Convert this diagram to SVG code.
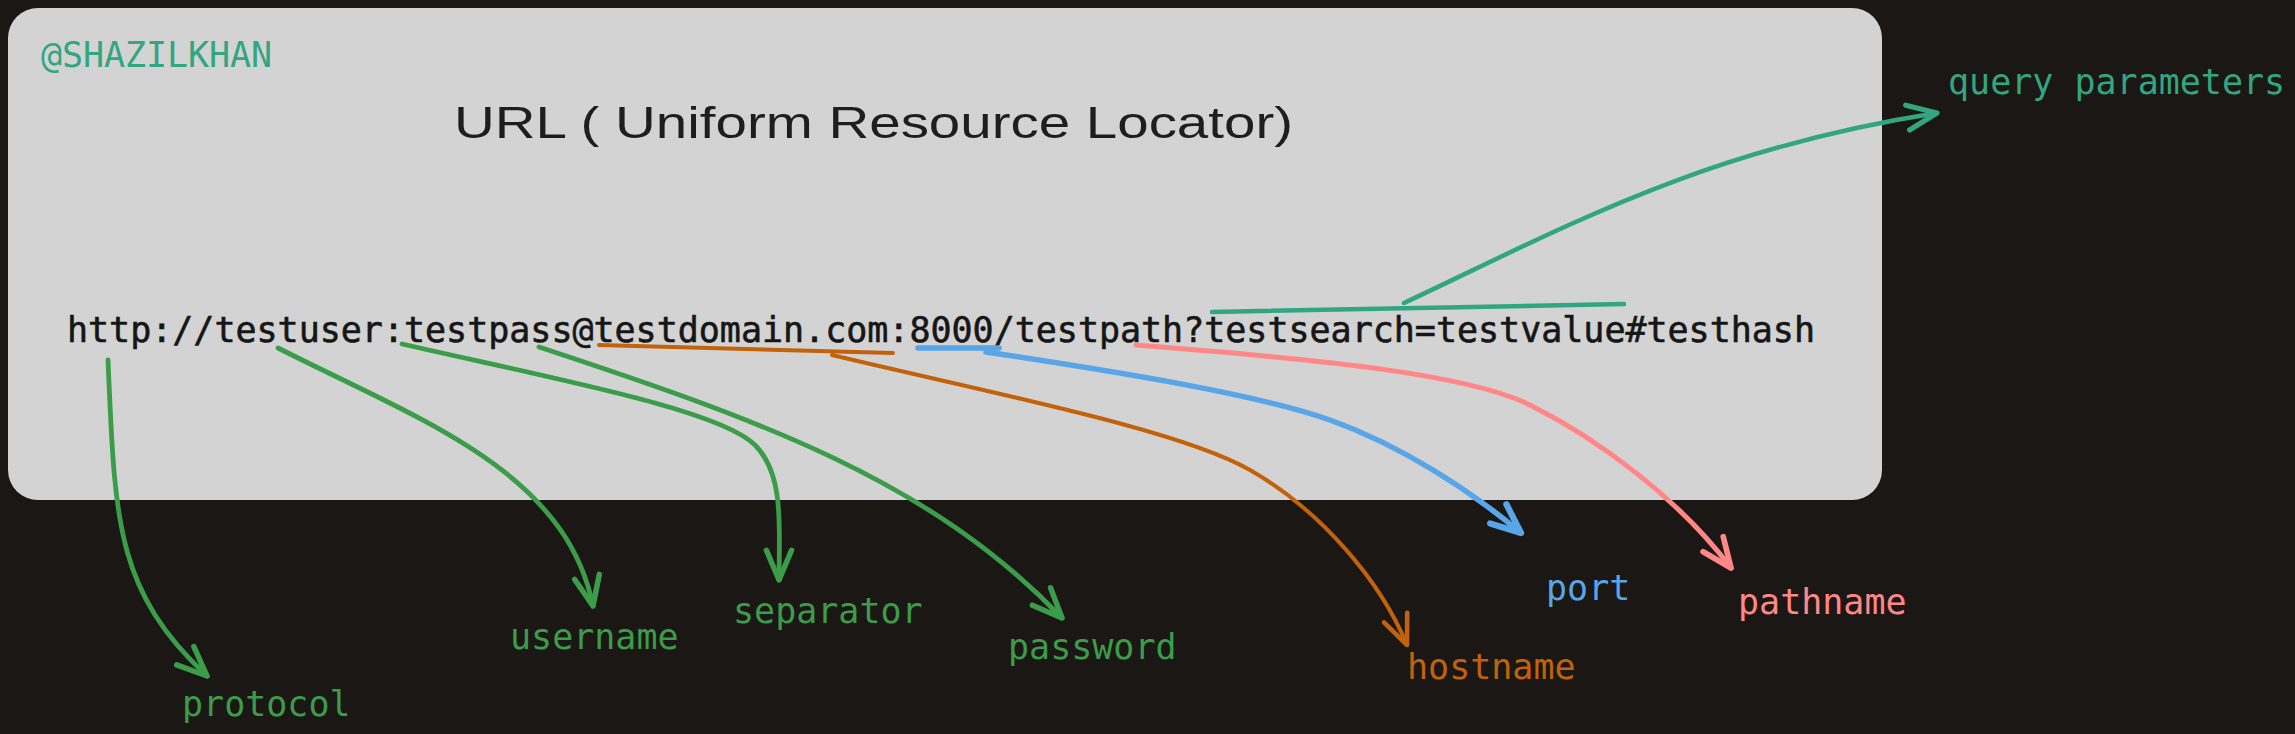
<svg xmlns="http://www.w3.org/2000/svg" width="2295" height="734" viewBox="0 0 2295 734">
<style>
.mono{font-family:"DejaVu Sans Mono","Liberation Mono",monospace;font-size:35px}
.conn path{fill:none;stroke-linecap:round;stroke-linejoin:round}
.g{stroke:#3b9c4a;stroke-width:4.8}
.o{stroke:#c2620a;stroke-width:4}
.b{stroke:#58a5e8;stroke-width:5.5}
.p{stroke:#ff8787;stroke-width:5}
.t{stroke:#31a681;stroke-width:4.5}
</style>
<defs>
<marker id="ag" markerUnits="userSpaceOnUse" markerWidth="40" markerHeight="40" refX="0" refY="0" viewBox="-30 -15 35 30" orient="auto"><path d="M-26 -11 L0 0 L-26 11" fill="none" stroke="#3b9c4a" stroke-width="4.8" stroke-linecap="round" stroke-linejoin="round"/></marker>
<marker id="ao" markerUnits="userSpaceOnUse" markerWidth="40" markerHeight="40" refX="0" refY="0" viewBox="-30 -15 35 30" orient="auto"><path d="M-26 -11 L0 0 L-26 11" fill="none" stroke="#c2620a" stroke-width="4" stroke-linecap="round" stroke-linejoin="round"/></marker>
<marker id="ab" markerUnits="userSpaceOnUse" markerWidth="40" markerHeight="40" refX="0" refY="0" viewBox="-30 -15 35 30" orient="auto"><path d="M-26 -11 L0 0 L-26 11" fill="none" stroke="#58a5e8" stroke-width="5.5" stroke-linecap="round" stroke-linejoin="round"/></marker>
<marker id="ap" markerUnits="userSpaceOnUse" markerWidth="40" markerHeight="40" refX="0" refY="0" viewBox="-30 -15 35 30" orient="auto"><path d="M-26 -11 L0 0 L-26 11" fill="none" stroke="#ff8787" stroke-width="5" stroke-linecap="round" stroke-linejoin="round"/></marker>
<marker id="at" markerUnits="userSpaceOnUse" markerWidth="40" markerHeight="40" refX="0" refY="0" viewBox="-30 -15 35 30" orient="auto"><path d="M-26 -11 L0 0 L-26 11" fill="none" stroke="#31a681" stroke-width="4.5" stroke-linecap="round" stroke-linejoin="round"/></marker>
</defs>
<rect x="0" y="0" width="2295" height="734" fill="#1b1714"/>
<g id="box">
<rect x="8" y="8" width="1874" height="492" rx="30" ry="30" fill="#d3d3d3"/>
</g>
<g id="author"><text class="mono" x="41" y="67" fill="#31a681" textLength="231">@SHAZILKHAN</text></g>
<g id="title"><text x="454" y="138" font-family="'Liberation Sans',sans-serif" font-size="45" fill="#1e1e1e" textLength="839" lengthAdjust="spacingAndGlyphs">URL ( Uniform Resource Locator)</text></g>
<g id="url"><text class="mono" x="67" y="342" fill="#161616" stroke="#161616" stroke-width="0.6" textLength="1748">http://testuser:testpass@testdomain.com:8000/testpath?testsearch=testvalue#testhash</text></g>
<g class="conn" id="connectors">
<path class="g" d="M108 360 C115 520, 115 590, 207 676" marker-end="url(#ag)"/>
<path class="g" d="M278 348 C420 420, 565 470, 593 606" marker-end="url(#ag)"/>
<path class="g" d="M402 344 C560 380, 720 410, 755 445 C785 475, 779 530, 779 580" marker-end="url(#ag)"/>
<path class="g" d="M539 347 C760 420, 930 480, 1062 618" marker-end="url(#ag)"/>
<path class="o" d="M599 345 L893 353" stroke-width="6.5"/>
<path class="o" d="M832 355 C1000 395, 1180 430, 1250 470 C1320 510, 1380 580, 1407 645" marker-end="url(#ao)"/>
<path class="b" d="M918 348 L999 348" stroke-width="6.5"/>
<path class="b" d="M986 352 C1120 372, 1260 395, 1330 420 C1400 445, 1470 490, 1521 533" marker-end="url(#ab)"/>
<path class="p" d="M1136 345 C1330 360, 1470 375, 1530 405 C1600 440, 1680 500, 1731 568" marker-end="url(#ap)"/>
<path class="t" d="M1212 312 L1624 304" stroke-width="6.5"/>
<path class="t" d="M1404 303 C1560 230, 1700 150, 1937 113" marker-end="url(#at)"/>
</g>
<g id="label-query"><text class="mono" x="1948" y="94" fill="#31a681">query parameters</text></g>
<g id="label-protocol"><text class="mono" x="182" y="716" fill="#3b9c4a">protocol</text></g>
<g id="label-username"><text class="mono" x="510" y="649" fill="#3b9c4a">username</text></g>
<g id="label-separator"><text class="mono" x="733" y="623" fill="#3b9c4a">separator</text></g>
<g id="label-password"><text class="mono" x="1008" y="659" fill="#3b9c4a">password</text></g>
<g id="label-hostname"><text class="mono" x="1407" y="679" fill="#c2620a">hostname</text></g>
<g id="label-port"><text class="mono" x="1546" y="600" fill="#58a5e8">port</text></g>
<g id="label-pathname"><text class="mono" x="1738" y="614" fill="#ff8787">pathname</text></g>
</svg>
